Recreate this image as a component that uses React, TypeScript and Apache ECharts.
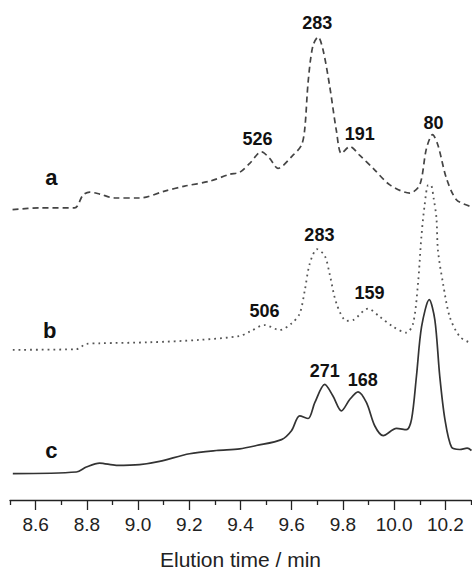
import React, { useEffect, useRef } from "react";
import * as echarts from "echarts";

// Elution time (min) and detector signal (a.u., traces stacked with offsets)
const traceA: [number, number][] = [
  [8.51, 293.3], [8.616, 295], [8.752, 295], [8.785, 308], [8.811, 311], [8.85, 309],
  [8.909, 305], [9.006, 305], [9.104, 312], [9.182, 317], [9.28, 322], [9.358, 329],
  [9.397, 331], [9.436, 340], [9.482, 351.7], [9.514, 345], [9.546, 335], [9.605, 348.3],
  [9.638, 358.3], [9.651, 375], [9.664, 422], [9.682, 458], [9.703, 467.7], [9.722, 455],
  [9.748, 418.3], [9.775, 372], [9.794, 350], [9.827, 357], [9.866, 348], [9.918, 335],
  [9.983, 318.3], [10.061, 310], [10.1, 318.3], [10.126, 355], [10.15, 369], [10.171, 358.3],
  [10.204, 325], [10.243, 303.3], [10.295, 296.7],
];

const traceB: [number, number][] = [
  [8.511, 151.7], [8.759, 152.3], [8.798, 157.7], [8.85, 158.3], [9.045, 159.3], [9.24, 161.7],
  [9.397, 165.7], [9.436, 170], [9.494, 176.7], [9.553, 171.7], [9.599, 178.3], [9.631, 188.3],
  [9.651, 211.7], [9.67, 238.3], [9.699, 253.3], [9.729, 246.7], [9.748, 228.3], [9.775, 198.3],
  [9.814, 181], [9.839, 181.7], [9.898, 193.3], [9.944, 185], [9.996, 175], [10.048, 169],
  [10.074, 178.3], [10.093, 218.3], [10.106, 265], [10.119, 298], [10.133, 318], [10.143, 318],
  [10.154, 305], [10.165, 285], [10.171, 252], [10.191, 218.3], [10.217, 185], [10.256, 165],
  [10.295, 159],
];

const traceC: [number, number][] = [
  [8.511, 26.7], [8.759, 28.3], [8.798, 33.3], [8.85, 37.3], [8.915, 35], [9.006, 35.7],
  [9.084, 39], [9.201, 46.7], [9.306, 50], [9.397, 51.7], [9.462, 55], [9.56, 61],
  [9.599, 70], [9.631, 85], [9.664, 82.3], [9.69, 98.3], [9.729, 116.7], [9.761, 105],
  [9.794, 90], [9.827, 101.7], [9.859, 109.3], [9.892, 98.3], [9.924, 75], [9.957, 65],
  [10.009, 72.3], [10.048, 71], [10.068, 81.7], [10.087, 125], [10.107, 175], [10.137, 202.3],
  [10.159, 181.7], [10.178, 125], [10.198, 81.7], [10.224, 53.3], [10.256, 51], [10.285, 52.3],
  [10.302, 50],
];

// Peak annotations: [label, time, signal at label centre]
const peaksA: [string, number, number][] = [
  ["526", 9.466, 365], ["283", 9.7, 482], ["191", 9.866, 370], ["80", 10.154, 381],
];
const peaksB: [string, number, number][] = [
  ["506", 9.494, 191], ["283", 9.708, 268], ["159", 9.904, 209],
];
const peaksC: [string, number, number][] = [
  ["271", 9.729, 130], ["168", 9.877, 121],
];
const traceNames: [string, number, number][] = [
  ["a", 8.662, 326], ["b", 8.655, 171], ["c", 8.662, 50],
];

const majorTicks = [8.6, 8.8, 9.0, 9.2, 9.4, 9.6, 9.8, 10.0, 10.2];
const minorTicks = [8.5, 8.7, 8.9, 9.1, 9.3, 9.5, 9.7, 9.9, 10.1, 10.3];

const FONT = "'Liberation Sans', Arial, Helvetica, sans-serif";

function marks(list: [string, number, number][], size: number) {
  return {
    symbol: "circle",
    symbolSize: 0,
    silent: true,
    label: {
      show: true,
      position: "inside",
      formatter: "{b}",
      fontFamily: FONT,
      fontWeight: "bold",
      fontSize: size,
      color: "#111",
    },
    data: list.map(([name, t, v]) => ({ name, coord: [t, v] })),
  };
}

function traceLabel(item: [string, number, number]) {
  const [name, t, v] = item;
  return {
    name,
    coord: [t, v],
    label: { fontSize: 22 },
  };
}

function allMarks(peaks: [string, number, number][], trace: [string, number, number]) {
  const m = marks(peaks, 18);
  return { ...m, data: [...m.data, traceLabel(trace)] };
}

export default function App() {
  const ref = useRef<HTMLDivElement>(null);
  useEffect(() => {
    if (!ref.current) return;
    const chart = echarts.init(ref.current, undefined, { renderer: "svg" });
    chart.setOption({
      animation: false,
      backgroundColor: "#fff",
      grid: { left: 10, right: 1, top: 0, bottom: 70 },
      xAxis: [
        {
          type: "value",
          min: 8.5,
          max: 10.3,
          name: "Elution time / min",
          nameLocation: "middle",
          nameGap: 49,
          nameTextStyle: { fontFamily: FONT, fontSize: 21, color: "#222" },
          axisLine: { show: true, lineStyle: { color: "#222", width: 1.3 } },
          axisTick: { show: true, customValues: majorTicks, length: 10, lineStyle: { color: "#222", width: 1.3 } },
          axisLabel: {
            customValues: majorTicks,
            margin: 15,
            fontFamily: FONT,
            fontSize: 19,
            color: "#222",
            formatter: (v: number) => v.toFixed(1),
          },
          splitLine: { show: false },
        },
        {
          type: "value",
          min: 8.5,
          max: 10.3,
          position: "bottom",
          axisLine: { show: false },
          axisTick: { show: true, customValues: minorTicks, length: 5, lineStyle: { color: "#222", width: 1.3 } },
          axisLabel: { show: false },
          splitLine: { show: false },
        },
      ],
      yAxis: { type: "value", min: 0, max: 505, show: false },
      series: [
        {
          type: "line",
          data: traceA,
          smooth: 0.3,
          showSymbol: false,
          lineStyle: { color: "#444", width: 1.7, type: [6, 4] },
          markPoint: allMarks(peaksA, traceNames[0]),
        },
        {
          type: "line",
          data: traceB,
          smooth: 0.3,
          showSymbol: false,
          lineStyle: { color: "#555", width: 1.8, type: [1.8, 4] },
          markPoint: allMarks(peaksB, traceNames[1]),
        },
        {
          type: "line",
          data: traceC,
          smooth: 0.3,
          showSymbol: false,
          lineStyle: { color: "#333", width: 1.7 },
          markPoint: allMarks(peaksC, traceNames[2]),
        },
      ],
    });
    return () => chart.dispose();
  }, []);
  return (
    <div
      ref={ref}
      style={{ position: "absolute", left: 0, top: 0, width: 472, height: 575 }}
    />
  );
}
